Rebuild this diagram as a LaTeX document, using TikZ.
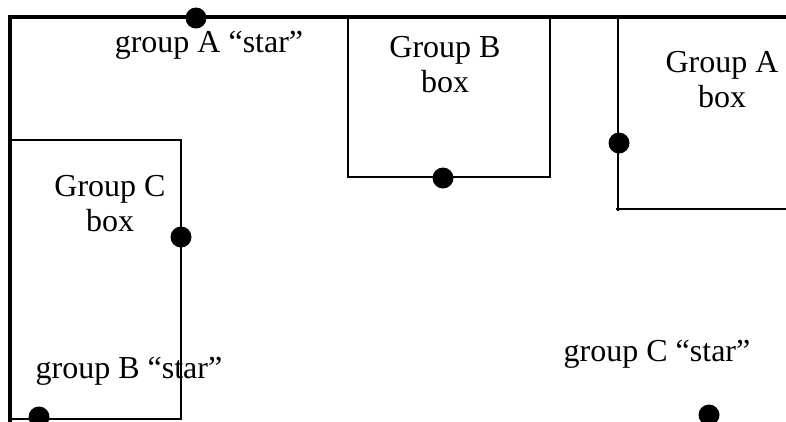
\documentclass[tikz,border=0pt]{standalone}
\usepackage{fontspec}
\setmainfont{Liberation Serif}
\begin{document}
\begin{tikzpicture}[x=1pt,y=-1pt,
  wall/.style={line width=4pt,line join=miter},
  edge/.style={line width=1.5pt},
  dot/.style={circle,fill=black,inner sep=0pt,minimum size=21pt},
  lbl/.style={anchor=base,inner sep=0pt,font=\fontsize{32}{36}\selectfont}]
\useasboundingbox (0,0) rectangle (786,421);

% outer walls along the top and left
\draw[wall] (786,17) -- (10,17) -- (10,423);

% Group B box
\draw[edge] (348,17) -- (348,177) -- (550,177) -- (550,17);
% Group A box
\draw[edge] (618,17) -- (618,211);
\draw[edge] (616,209) -- (786,209);
% Group C box
\draw[edge] (10,140) -- (181,140) -- (181,419) -- (10,419);

% labels
\node[lbl] (gas) at (209,52) {group A “star”};
\node[lbl] (gb1) at (445,57) {Group B};
\node[lbl] (gb2) at (445,92) {box};
\node[lbl] (ga1) at (722,72) {Group A};
\node[lbl] (ga2) at (722,107) {box};
\node[lbl] (gc1) at (110,196) {Group C};
\node[lbl] (gc2) at (110,231) {box};
\node[lbl] (gbs) at (129,378) {group B “star”};
\node[lbl] (gcs) at (657,361) {group C “star”};

% stars
\node[dot] (sa) at (196,18) {};
\node[dot] (sb1) at (443,178) {};
\node[dot] (sa2) at (619,143) {};
\node[dot] (sc1) at (181,237) {};
\node[dot] (sb) at (39,417) {};
\node[dot] (sc) at (709,415) {};
\end{tikzpicture}
\end{document}
